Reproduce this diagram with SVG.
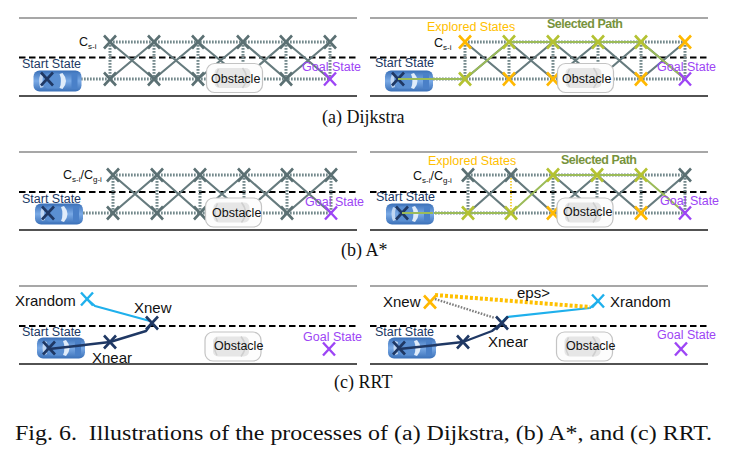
<svg xmlns="http://www.w3.org/2000/svg" xmlns:xlink="http://www.w3.org/1999/xlink" width="729" height="453" viewBox="0 0 729 453">
<style>
.road{stroke:#8a8a8a;stroke-width:1.6;fill:none}
.roadb{stroke:#1a1a1a;stroke-width:1.6;fill:none}
.lane{stroke:#000;stroke-width:2;stroke-dasharray:6.5 3.5;fill:none}
.dot{stroke:#74898c;stroke-width:3;stroke-dasharray:1.7 1.3;fill:none}
.dia{stroke:#667b7e;stroke-width:2.2;fill:none}
.sel{stroke:#9bbb59;stroke-width:2;fill:none}
.odot{stroke:#f2c200;stroke-width:1.5;stroke-dasharray:1.5 1.5;fill:none}
.nav{stroke:#1f3864;stroke-width:2.4;fill:none;stroke-linejoin:round}
.lb{stroke:#1fb0ec;stroke-width:2.2;fill:none;stroke-linejoin:round}
.eps{stroke:#ffc000;stroke-width:4;stroke-dasharray:3 2;fill:none}
.gdot{stroke:#7f7f7f;stroke-width:2.4;stroke-dasharray:1.6 1.4;fill:none}
.xg{stroke:#5b7073;stroke-width:2.6;fill:none}
.xo{stroke:#ffb800;stroke-width:2.6;fill:none}
.xy{stroke:#b4c232;stroke-width:2.6;fill:none}
.xp{stroke:#9d45f5;stroke-width:2.4;fill:none}
.xn{stroke:#1f3864;stroke-width:2.6;fill:none}
.xb{stroke:#1fb0ec;stroke-width:2.4;fill:none}
.t{font-family:"Liberation Sans",Arial,sans-serif;font-size:12.5px;fill:#111}
.ts{fill:#203864}
.tg{fill:#9d45f5}
.to{fill:#ffc000}
.tp{fill:#77933c;font-weight:bold}
.tr{font-family:"Liberation Sans",Arial,sans-serif;font-size:15px;fill:#111}
.sub{font-size:8px}
.cap{font-family:"Liberation Serif","Times New Roman",serif;font-size:18px;fill:#111}
.fig{font-family:"Liberation Serif","Times New Roman",serif;font-size:20px;fill:#111}
</style>
<defs>
<path id="xm" d="M-6,-6.5L6,6.5M-6,6.5L6,-6.5"/>
<linearGradient id="cg" x1="0" y1="0" x2="0" y2="1">
<stop offset="0" stop-color="#3a70b8"/><stop offset="0.5" stop-color="#7aaae6"/><stop offset="1" stop-color="#3a70b8"/>
</linearGradient>
<g id="car">
<rect x="-24" y="-10.5" width="48" height="21" rx="6" fill="url(#cg)"/>
<rect x="-12" y="-7.5" width="15" height="15" rx="2" fill="#5a8fd2"/>
<path d="M5,-8 Q12,0 5,8 L2,7 Q5,0 2,-7Z" fill="#e0ecfa"/>
<path d="M-17,-7 Q-20,0 -17,7 L-14,6 Q-16,0 -14,-6Z" fill="#c0d6f2"/>
<rect x="14" y="-8" width="6" height="16" rx="2" fill="#4a80c8"/>
</g>
<g id="obs">
<rect x="-28" y="-14.5" width="56" height="29" rx="8" fill="#fdfdfd" stroke="#c4c4c4" stroke-width="1.2"/>
<rect x="-20" y="-10" width="36" height="20" rx="5" fill="#e6e6e6"/>
<path d="M8,-10 Q16,0 8,10" fill="none" stroke="#cfcfcf" stroke-width="1.5"/>
<path d="M-16,-9 Q-21,0 -16,9" fill="none" stroke="#cfcfcf" stroke-width="1.5"/>
</g>
</defs>
<rect width="729" height="453" fill="#fff"/>

<g id="roads">
<path class="road" d="M19,18H357M370,18H708M19,152H357M370,152H708M19,286H357M370,286H708"/>
<path class="roadb" d="M19,96H357M370,96H708M19,230H357M370,230H708M19,364H357M370,364H708"/>
<path class="lane" d="M19,57.5H357M370,57.5H708M19,192H357M370,192H708M19,326H357M370,326H708"/>
</g>

<g id="connectors">
<path class="dot" d="M110,42H330M60,79H330M110,42V79M154,42V79M198,42V79M243,42V79M286,42V79M330,42V79"/>
<path class="dia" d="M110,42L154,79M110,79L154,42M154,42L198,79M154,79L198,42M198,42L243,79M198,79L243,42M243,42L286,79M243,79L286,42M286,42L330,79M286,79L330,42"/>
<path class="dot" d="M465,42H685M412,79H685M465,42V79M509,42V79M553,42V79M598,42V79M641,42V79M685,42V79"/>
<path class="dia" d="M465,42L509,79M465,79L509,42M509,42L553,79M509,79L553,42M553,42L598,79M553,79L598,42M598,42L641,79M598,79L641,42M641,42L685,79M641,79L685,42"/>
<path class="sel" d="M398,79H465L509,42H641L685,79"/>
<path class="dot" d="M113,175H331M62,213H331M113,175V213M157,175V213M200,175V213M244,175V213M287,175V213M331,175V213"/>
<path class="dia" d="M113,175L157,213M113,213L157,175M157,175L200,213M157,213L200,175M200,175L244,213M200,213L244,175M244,175L287,213M244,213L287,175M287,175L331,213M287,213L331,175"/>
<path class="dot" d="M468,175H685M414,213H685M468,175V213M553,175V213M597,175V213M641,175V213M685,175V213"/>
<path class="odot" d="M511,175V213"/>
<path class="dia" d="M468,175L511,213M468,213L511,175M511,175L553,213M553,175L597,213M553,213L597,175M597,175L641,213M597,213L641,175M641,213L685,175"/>
<path class="sel" d="M402,213H511L553,175H641L685,213"/>
<path class="nav" d="M49,349L110,342L146,331L152,323"/>
<path class="lb" d="M87,299L95,306L150,321"/>
<path class="nav" d="M399,349L463,342L492,331L502,323"/>
<path class="lb" d="M502,322L507,317L590,308L598,301"/>
<path class="gdot" d="M435,299L495,318"/>
<path class="eps" d="M435,295L590,307"/>
</g>

<g id="a-left">
<g class="xg">
<use href="#xm" x="110" y="42"/><use href="#xm" x="154" y="42"/><use href="#xm" x="198" y="42"/><use href="#xm" x="243" y="42"/><use href="#xm" x="286" y="42"/><use href="#xm" x="330" y="42"/>
<use href="#xm" x="110" y="79"/><use href="#xm" x="154" y="79"/><use href="#xm" x="198" y="79"/><use href="#xm" x="286" y="79"/>
</g>
<use href="#xm" x="330" y="79" class="xp"/>
<use href="#car" x="57.5" y="81"/>
<use href="#xm" x="47" y="79" class="xn"/>
<use href="#obs" x="234.5" y="78"/>
<text class="t" x="211" y="83">Obstacle</text>
<text class="t ts" x="22" y="68">Start State</text>
<text class="t tg" x="302" y="71">Goal State</text>
<text class="t" x="79" y="46">C<tspan class="sub" dy="3">s-i</tspan></text>
</g>

<g id="a-right">
<use href="#xm" x="465" y="42" class="xo"/>
<g class="xy"><use href="#xm" x="509" y="42"/><use href="#xm" x="553" y="42"/><use href="#xm" x="598" y="42"/><use href="#xm" x="641" y="42"/><use href="#xm" x="465" y="79"/></g>
<use href="#xm" x="685" y="42" class="xo"/>
<g class="xo"><use href="#xm" x="509" y="79"/><use href="#xm" x="553" y="79"/><use href="#xm" x="641" y="79"/></g>
<use href="#xm" x="685" y="79" class="xp"/>
<use href="#car" x="409" y="81"/>
<use href="#xm" x="398" y="79" class="xn"/>
<path class="sel" d="M398,79H433"/>
<use href="#obs" x="585.5" y="78"/>
<text class="t" x="562" y="83">Obstacle</text>
<text class="t ts" x="375" y="67">Start State</text>
<text class="t tg" x="657" y="71">Goal State</text>
<text class="t" x="434" y="47">C<tspan class="sub" dy="3">s-i</tspan></text>
<text class="t to" x="427" y="31">Explored States</text>
<text class="t tp" x="547" y="28" textLength="76">Selected Path</text>
</g>

<g id="b-left">
<g class="xg">
<use href="#xm" x="113" y="175"/><use href="#xm" x="157" y="175"/><use href="#xm" x="200" y="175"/><use href="#xm" x="244" y="175"/><use href="#xm" x="287" y="175"/><use href="#xm" x="331" y="175"/>
<use href="#xm" x="113" y="213"/><use href="#xm" x="157" y="213"/><use href="#xm" x="200" y="213"/><use href="#xm" x="287" y="213"/>
</g>
<use href="#xm" x="331" y="213" class="xp"/>
<use href="#car" x="59" y="214"/>
<use href="#xm" x="48" y="213" class="xn"/>
<use href="#obs" x="233.5" y="212.5"/>
<text class="t" x="212" y="217">Obstacle</text>
<text class="t ts" x="22" y="203">Start State</text>
<text class="t tg" x="305" y="206">Goal State</text>
<text class="t" x="63" y="179">C<tspan class="sub" dy="3">s-i</tspan><tspan dy="-3">/C</tspan><tspan class="sub" dy="3">g-i</tspan></text>
</g>

<g id="b-right">
<g class="xg"><use href="#xm" x="468" y="175"/><use href="#xm" x="511" y="175"/><use href="#xm" x="685" y="175"/></g>
<g class="xy"><use href="#xm" x="553" y="175"/><use href="#xm" x="597" y="175"/><use href="#xm" x="641" y="175"/><use href="#xm" x="468" y="213"/><use href="#xm" x="511" y="213"/></g>
<g class="xo"><use href="#xm" x="553" y="213"/><use href="#xm" x="641" y="213"/></g>
<use href="#xm" x="685" y="213" class="xp"/>
<use href="#car" x="410" y="214"/>
<use href="#xm" x="402" y="213" class="xn"/>
<path class="sel" d="M402,213H433"/>
<use href="#obs" x="585" y="212.5"/>
<text class="t" x="563" y="216">Obstacle</text>
<text class="t ts" x="376" y="201">Start State</text>
<text class="t tg" x="660" y="205">Goal State</text>
<text class="t" x="413" y="180">C<tspan class="sub" dy="3">s-i</tspan><tspan dy="-3">/C</tspan><tspan class="sub" dy="3">g-i</tspan></text>
<text class="t to" x="428" y="165">Explored States</text>
<text class="t tp" x="561" y="164" textLength="76">Selected Path</text>
</g>

<g id="c-left">
<use href="#car" x="61" y="348"/>
<path class="nav" d="M49,349L85,345"/>
<use href="#xm" x="49" y="348" class="xn"/>
<use href="#xm" x="110" y="342" class="xn"/>
<use href="#xm" x="152" y="323" class="xn"/>
<use href="#xm" x="87" y="299" class="xb"/>
<use href="#obs" x="233" y="346.5"/>
<text class="t" x="214" y="350">Obstacle</text>
<use href="#xm" x="329" y="349" class="xp"/>
<text class="t ts" x="22" y="336">Start State</text>
<text class="t tg" x="303" y="341">Goal State</text>
<text class="tr" x="15" y="306">Xrandom</text>
<text class="tr" x="134" y="313">Xnew</text>
<text class="tr" x="92" y="363">Xnear</text>
</g>

<g id="c-right">
<use href="#car" x="412" y="348"/>
<path class="nav" d="M399,349L437,345"/>
<use href="#xm" x="399" y="348" class="xn"/>
<use href="#xm" x="463" y="342" class="xn"/>
<use href="#xm" x="502" y="323" class="xn"/>
<use href="#xm" x="430" y="302" class="xo"/>
<use href="#xm" x="598" y="301" class="xb"/>
<use href="#obs" x="584.5" y="346.5"/>
<text class="t" x="566" y="350">Obstacle</text>
<use href="#xm" x="681" y="349" class="xp"/>
<text class="t ts" x="375" y="336">Start State</text>
<text class="t tg" x="657" y="339">Goal State</text>
<text class="tr" x="383" y="307">Xnew</text>
<text class="tr" x="517" y="298">eps&gt;</text>
<text class="tr" x="610" y="307">Xrandom</text>
<text class="tr" x="488" y="347">Xnear</text>
</g>

<g id="captions">
<text class="cap" x="322" y="123">(a) Dijkstra</text>
<text class="cap" x="341" y="256">(b) A*</text>
<text class="cap" x="334" y="388">(c) RRT</text>
<text class="fig" x="15" y="440" xml:space="preserve" textLength="697" lengthAdjust="spacingAndGlyphs">Fig. 6.  Illustrations of the processes of (a) Dijkstra, (b) A*, and (c) RRT.</text>
</g>
</svg>
